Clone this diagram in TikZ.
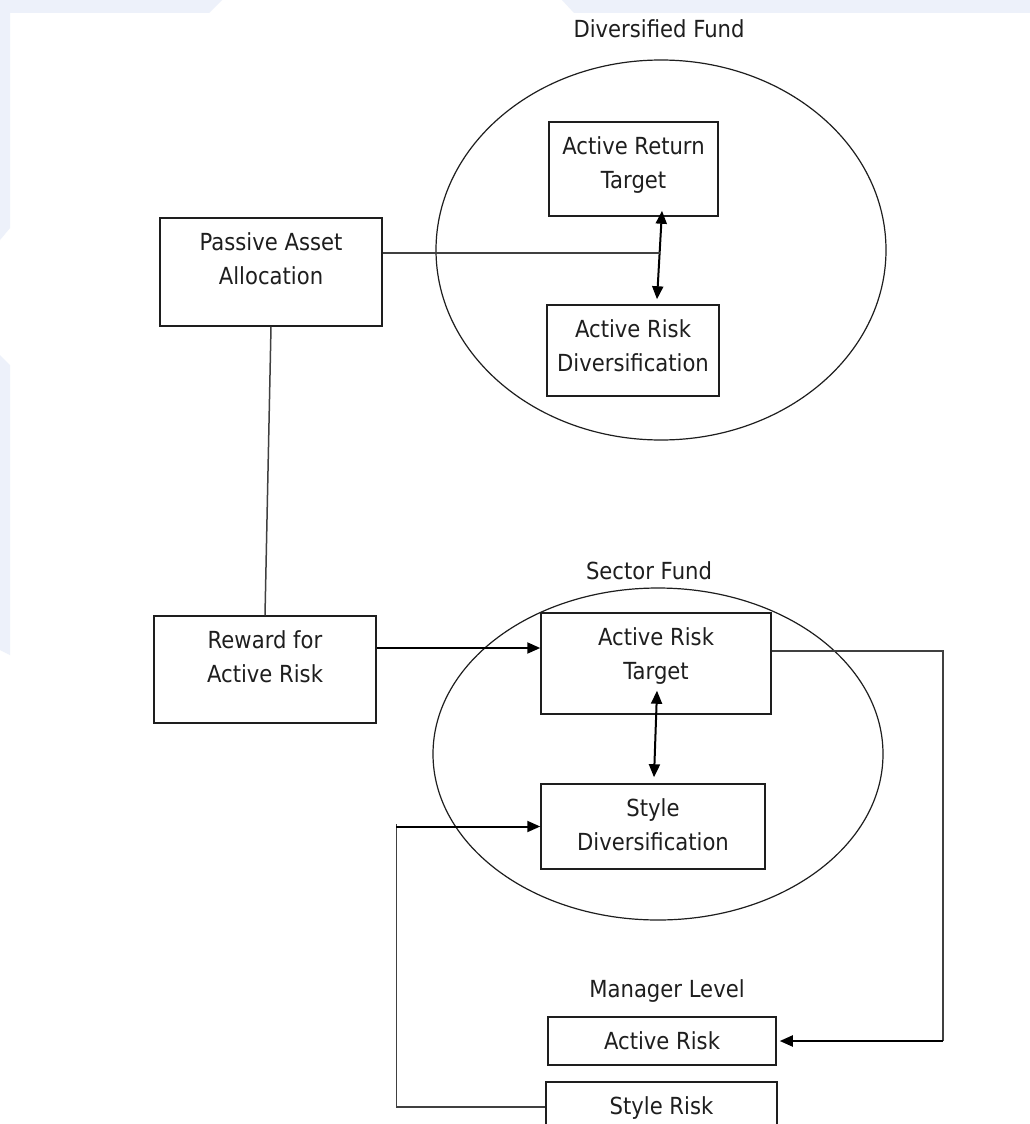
\documentclass[tikz,border=0pt]{standalone}
\usepackage{fontspec}
\setmainfont{DejaVu Sans}[FakeStretch=0.9]
\usetikzlibrary{arrows.meta,calc}
\definecolor{bgblue}{HTML}{EDF1FA}
\definecolor{ink}{HTML}{1E1E1E}
\newcommand\bxt[3]{\parbox[c][#2][t]{#1}{\centering\rule{0pt}{32.5pt}#3\par}}
\begin{document}
\begin{tikzpicture}[x=1pt,y=-1pt,
  box/.style={draw=ink, line width=1.5pt, inner sep=0pt, text=ink, font=\fontsize{23.5}{33.5}\selectfont},
  title/.style={text=ink, font=\fontsize{23.5}{33.5}\selectfont, inner sep=0pt, anchor=base},
  oval/.style={draw=ink, line width=1.2pt},
  arr/.style={draw=black, line width=2pt, -{Triangle[length=13pt,width=11pt]}},
  dbl/.style={draw=black, line width=2pt, {Triangle[length=13pt,width=11pt]}-{Triangle[length=13pt,width=11pt]}},
  thin/.style={draw=ink!85, line width=1.5pt}]
\clip (0,0) rectangle (1030,1124);
\fill[white] (0,0) rectangle (1030,1124);
\fill[bgblue] (0,0) -- (222,0) -- (209,13) -- (10,13) -- (10,228) -- (0,240) -- cycle;
\fill[bgblue] (562,0) -- (1030,0) -- (1030,13) -- (574,13) -- cycle;
\fill[bgblue] (0,355) -- (10,365) -- (10,655) -- (0,650) -- cycle;

% titles
\node[title] (tdf) at (659,37.5) {Diversified Fund};
\node[title] (tsf) at (649,579.5) {Sector Fund};
\node[title] (tml) at (667,997.5) {Manager Level};

% ellipses
\draw[oval] (661,250) ellipse [x radius=225, y radius=190];
\draw[oval] (658,754) ellipse [x radius=225, y radius=166];

% boxes
\node[box] (art)  at (633.5,169)   {\bxt{169pt}{94pt}{Active Return\\Target}};
\node[box] (ard)  at (633,350.5)   {\bxt{172pt}{91pt}{Active Risk\\Diversification}};
\node[box] (paa)  at (271,272)     {\bxt{222pt}{108pt}{Passive Asset\\Allocation}};
\node[box] (rew)  at (265,669.5)   {\bxt{222pt}{107pt}{Reward for\\Active Risk}};
\node[box] (art2) at (656,663.5)   {\bxt{230pt}{101pt}{Active Risk\\Target}};
\node[box] (sd)   at (653,826.5)   {\bxt{224pt}{85pt}{Style\\Diversification}};
\node[box] (ar)   at (662,1041)    {\bxt{228pt}{48pt}{Active Risk}};
\node[box] (sr)   at (661.5,1107)  {\bxt{231pt}{50pt}{Style Risk}};

% double arrows
\coordinate (a1) at ([xshift=28.5pt,yshift=6pt]art.south);
\coordinate (a2) at ([xshift=24pt,yshift=5pt]ard.north);
\draw[dbl] (a1) -- (a2);
\coordinate (j1) at ($(a1)!0.48!(a2)$);
\draw[thin] (paa.east |- j1) -- (j1);

\coordinate (b1) at ([xshift=1pt,yshift=24pt]art2.south);
\coordinate (b2) at ([xshift=1pt,yshift=6pt]sd.north);
\draw[dbl] (b1) -- (b2);

% passive -> reward
\draw[thin] (paa.south) -- (rew.north);

% reward -> active risk target
\coordinate (r1) at ([yshift=21.5pt]rew.east);
\draw[arr] (r1) -- (r1 -| art2.west);

% active risk target -> manager active risk
\coordinate (c1) at ([yshift=12.5pt]art2.east);
\coordinate (c2) at ([xshift=171pt]c1);
\draw[thin] (c1) -- (c2) -- (c2 |- ar.east);
\draw[arr] (c2 |- ar.east) -- ([xshift=3pt]ar.east);

% style risk -> style diversification
\coordinate (c3) at ([xshift=-149pt]sr.west);
\draw[thin] (sr.west) -- (c3) -- ([yshift=3pt]c3 |- sd.west);
\draw[arr] (c3 |- sd.west) -- (sd.west);
\end{tikzpicture}
\end{document}
